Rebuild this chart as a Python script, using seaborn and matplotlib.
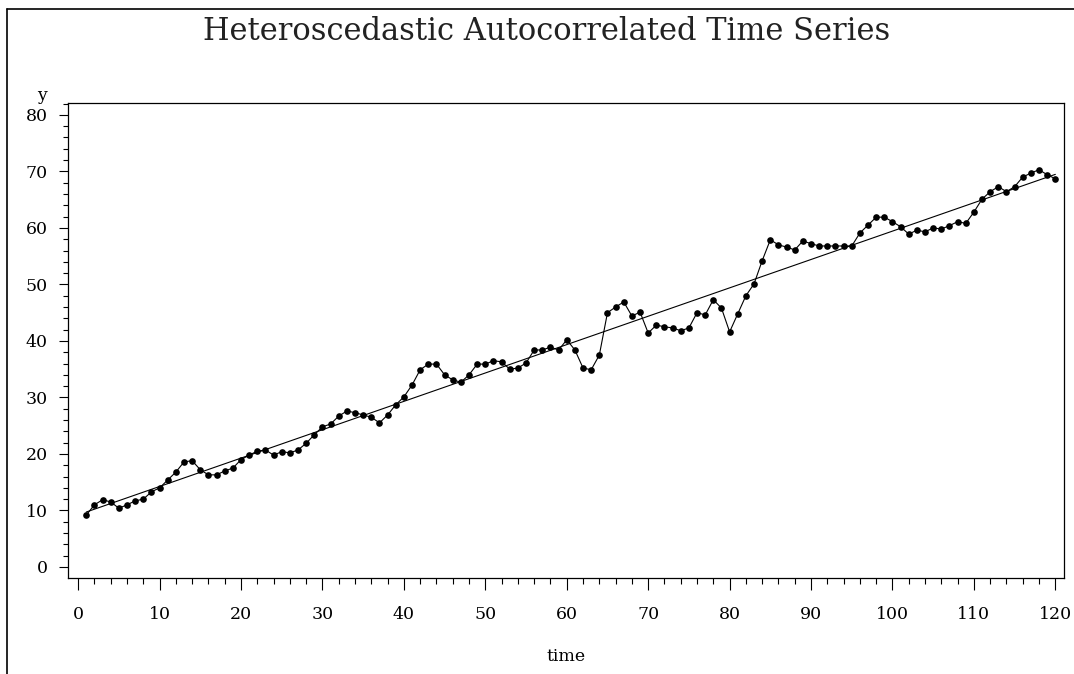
import numpy as np
import pandas as pd
import matplotlib
matplotlib.use("Agg")
import matplotlib.pyplot as plt
from matplotlib.lines import Line2D
from matplotlib.ticker import MultipleLocator
import seaborn as sns

time = list(range(1, 121))
y = [9.2, 11.0, 11.9, 11.5, 10.4, 11.0, 11.7, 12.0, 13.3, 14.0,
     15.4, 16.8, 18.6, 18.8, 17.2, 16.3, 16.3, 17.0, 17.5, 19.0,
     19.8, 20.5, 20.7, 19.8, 20.4, 20.2, 20.7, 21.9, 23.4, 24.8,
     25.3, 26.7, 27.6, 27.3, 26.9, 26.5, 25.5, 26.9, 28.7, 30.1,
     32.2, 34.9, 35.9, 35.9, 34.0, 33.1, 32.7, 34.0, 35.9, 35.9,
     36.5, 36.3, 35.0, 35.2, 36.1, 38.4, 38.4, 38.9, 38.4, 40.2,
     38.4, 35.2, 34.9, 37.5, 45.0, 46.0, 46.9, 44.4, 45.1, 41.4,
     42.8, 42.5, 42.3, 41.8, 42.3, 45.0, 44.6, 47.3, 45.8, 41.6,
     44.8, 48.0, 50.1, 54.2, 57.9, 57.0, 56.6, 56.1, 57.7, 57.2,
     56.8, 56.8, 56.8, 56.8, 56.8, 59.1, 60.5, 61.9, 61.9, 61.1,
     60.2, 58.9, 59.6, 59.3, 60.0, 59.8, 60.4, 61.1, 60.8, 62.8,
     65.1, 66.4, 67.3, 66.4, 67.3, 69.0, 69.7, 70.3, 69.4, 68.7]
x_ticks = list(range(0, 121, 10))
y_ticks = list(range(0, 81, 10))
title = "Heteroscedastic Autocorrelated Time Series"

df = pd.DataFrame({"time": time, "y": y})

sns.set_style("white")
plt.rcParams["font.family"] = ["DejaVu Serif"]
plt.rcParams["text.color"] = "black"
plt.rcParams["axes.labelcolor"] = "black"
plt.rcParams["xtick.color"] = "black"
plt.rcParams["ytick.color"] = "black"

W, H = 1074, 674
fig = plt.figure(figsize=(W / 100, H / 100), dpi=100)
ax = fig.add_axes([68 / W, 1 - 578 / H, (1064.3 - 68) / W, (578 - 103) / H])

sns.lineplot(data=df, x="time", y="y", ax=ax, color="black", linewidth=0.8,
             marker="o", markersize=4.8, markeredgewidth=0, markerfacecolor="black")
sns.regplot(data=df, x="time", y="y", ax=ax, scatter=False, ci=None,
            color="black", line_kws={"linewidth": 0.8})

ax.set_xlim(-1.25, 121.1)
ax.set_ylim(-1.95, 82.1)
ax.set_xticks(x_ticks)
ax.set_yticks(y_ticks)
ax.xaxis.set_minor_locator(MultipleLocator(2))
ax.yaxis.set_minor_locator(MultipleLocator(2))
ax.tick_params(axis="x", which="major", direction="out", length=8.4, width=0.8,
               pad=12, labelsize=12.5, color="black", labelcolor="black", bottom=True)
ax.tick_params(axis="x", which="minor", direction="out", length=4.3, width=0.8,
               color="black", bottom=True)
ax.tick_params(axis="y", which="major", direction="out", length=6.7, width=0.8,
               pad=8, labelsize=12.5, color="black", labelcolor="black", left=True)
ax.tick_params(axis="y", which="minor", direction="out", length=3.4, width=0.8,
               color="black", left=True)
for s in ax.spines.values():
    s.set_color("black")
    s.set_linewidth(0.9)

ax.set_ylabel("")
ax.set_xlabel("time", fontsize=12.5, color="black")
ax.xaxis.set_label_coords(0.5, -0.166)
ax.xaxis.label.set_va("center")

fig.text(42 / W, 1 - 95 / H, "y", ha="center", va="center", fontsize=12.5, color="black")
fig.text(547 / W, 1 - 31 / H, title, ha="center", va="center", fontsize=22,
         color="#222222")

fig.add_artist(Line2D([7 / W, 1], [1 - 9 / H, 1 - 9 / H], color="black", linewidth=1.2))
fig.add_artist(Line2D([7 / W, 7 / W], [0, 1 - 9 / H], color="black", linewidth=1.2))

fig.savefig("out.png", dpi=100)
